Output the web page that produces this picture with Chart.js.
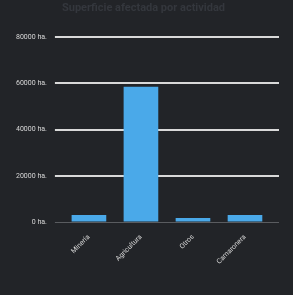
<!DOCTYPE html>
<html>
<head>
<meta charset="utf-8">
<script src="https://cdn.jsdelivr.net/npm/chart.js@4/dist/chart.umd.min.js"></script>
<style>
  html, body { margin: 0; padding: 0; background: #222428; }
  #myChart { display: block; }
</style>
</head>
<body>
<canvas id="myChart" width="293" height="295"></canvas>
<script>
// Datos del gráfico
var categorias = ['Minería', 'Agricultura', 'Otros', 'Camaronera'];
var hectareas = [3000, 58500, 1700, 3000];
var ticksY = [0, 20000, 40000, 60000, 80000];

function colorGrid(ctx) {
    return ctx.tick && ctx.tick.value === 0 ? '#5a5c60' : '#d9d9d9';
}
function anchoGrid(ctx) {
    return ctx.tick && ctx.tick.value === 0 ? 1 : 2;
}
function fijarTicks(axis) {
    axis.ticks = ticksY.map(function (v) { return { value: v }; });
}

var config = {
    type: 'bar',
    data: {
        labels: categorias,
        datasets: [{
            label: 'Hectáreas',
            data: hectareas,
            backgroundColor: '#4aa9e9',
            borderWidth: 0,
            barPercentage: 0.9,
            categoryPercentage: 0.74
        }]
    },
    options: {
        responsive: false,
        animation: false,
        layout: { padding: { left: 8, right: 14, top: 0, bottom: 26 } },
        plugins: {
            legend: { display: false },
            tooltip: { enabled: false },
            title: {
                display: true,
                text: 'Superficie afectada por actividad',
                color: '#34373d',
                font: { family: 'Roboto', size: 11, weight: 'bold' },
                padding: { top: 2, bottom: 22 }
            }
        },
        scales: {
            x: {
                grid: { display: false },
                border: { display: false },
                ticks: {
                    color: '#d8d8d8',
                    font: { family: 'Roboto', size: 7 },
                    maxRotation: 45,
                    minRotation: 45
                }
            },
            y: {
                min: 0,
                max: 80000,
                afterBuildTicks: fijarTicks,
                border: { display: false },
                grid: {
                    color: colorGrid,
                    lineWidth: anchoGrid,
                    tickLength: 8
                },
                ticks: {
                    color: '#d8d8d8',
                    font: { family: 'Roboto', size: 7 },
                    padding: 8,
                    callback: function (v) { return v + ' ha.'; }
                }
            },
            y2: {
                position: 'right',
                min: 0,
                max: 80000,
                afterBuildTicks: fijarTicks,
                border: { display: false },
                grid: {
                    color: colorGrid,
                    lineWidth: anchoGrid,
                    tickLength: 8,
                    drawOnChartArea: false
                },
                ticks: { display: false }
            }
        }
    }
};

var ctx = document.getElementById('myChart').getContext('2d');
new Chart(ctx, config);
</script>
</body>
</html>
